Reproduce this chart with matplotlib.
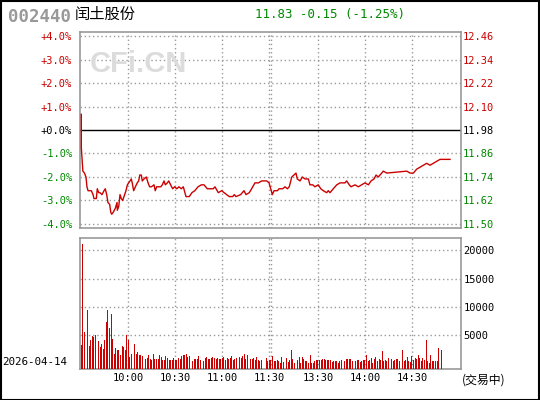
import matplotlib.pyplot as plt
import numpy as np

# dados do grafico (slot 0 = 9:30, slot 121 = 13:00)
prev_close = 11.98
code = "002440"
name = "闰土股份"
date_str = "2026-04-14"

price_slots = [0, 0, 1, 2, 3, 3.6, 4.3, 6.4, 7.5, 8.1, 9.6, 10.2, 11.1, 11.9, 13.2, 14.5,
               15.3, 16.2, 17, 18.1, 18.8, 19.4, 20.4, 21.7, 22.8, 23, 23.9, 24.3, 24.7,
               25.5, 26.4, 27.7, 28.5, 29.4, 30.2, 31.1, 31.9, 32.5, 33.4, 34.5, 35.7,
               36.6, 37.3, 38.3, 38.9, 40, 41.5, 42.6, 43.6, 44.7, 46.4, 47.2, 48.1,
               50.7, 51.7, 52.8, 53.6, 54.9, 55.8, 57, 58.3, 59.6, 60.9, 62.3, 63.8,
               65.1, 66.8, 68.9, 70.6, 72.4, 74.5, 76.6, 78.3, 80.4, 84.2, 85.3, 87.4,
               89.6, 91.1, 92.8, 94.4, 96.6, 97.6, 98.7, 101.7, 103.8, 105.1, 107.2,
               108.7, 110.8, 113, 115.1, 116.8, 118.3, 119.8, 121.9, 123, 125.1, 126.2,
               128.5, 130, 131.5, 132.7, 134.3, 135.7, 137, 137.8, 139.6, 141, 142.8,
               144.9, 145.9, 147.7, 149.1, 151.2, 152.8, 154.4, 156.6, 157.6, 158.7,
               160.8, 163, 165.1, 168.3, 169.3, 171, 172.1, 174.7, 176.8, 178.9, 181,
               183.2, 184.9, 186.8, 188.1, 189.5, 191.7, 192.7, 194.9, 207.7, 209.8,
               211.9, 214, 216.1, 218.3, 220.4, 222.5, 224.6, 226.8, 228.9, 235.3]
prices = [12.06, 11.89, 11.77, 11.76, 11.74, 11.69, 11.67, 11.67, 11.65, 11.63, 11.63,
          11.68, 11.66, 11.66, 11.65, 11.67, 11.68, 11.65, 11.61, 11.60, 11.56, 11.55,
          11.56, 11.58, 11.61, 11.57, 11.59, 11.62, 11.65, 11.63, 11.62, 11.65, 11.67,
          11.70, 11.71, 11.72, 11.73, 11.71, 11.67, 11.69, 11.71, 11.72, 11.75, 11.75,
          11.72, 11.73, 11.74, 11.71, 11.69, 11.69, 11.70, 11.67, 11.69, 11.69, 11.70,
          11.72, 11.70, 11.71, 11.72, 11.70, 11.68, 11.69, 11.68, 11.69, 11.68, 11.69,
          11.64, 11.64, 11.66, 11.67, 11.69, 11.70, 11.70, 11.68, 11.68, 11.69, 11.66,
          11.67, 11.66, 11.65, 11.64, 11.64, 11.65, 11.64, 11.65, 11.67, 11.65, 11.66,
          11.68, 11.71, 11.71, 11.72, 11.72, 11.72, 11.71, 11.65, 11.67, 11.67, 11.68,
          11.68, 11.69, 11.68, 11.69, 11.74, 11.75, 11.76, 11.73, 11.72, 11.74, 11.73,
          11.73, 11.70, 11.70, 11.69, 11.70, 11.68, 11.67, 11.66, 11.67, 11.66, 11.68,
          11.70, 11.71, 11.71, 11.72, 11.70, 11.69, 11.70, 11.69, 11.70, 11.71, 11.70,
          11.72, 11.73, 11.75, 11.74, 11.76, 11.77, 11.76, 11.77, 11.76, 11.76, 11.78,
          11.79, 11.80, 11.81, 11.80, 11.81, 11.82, 11.83, 11.83]

# volume por minuto (slots 0..230), 0 = sem barra
volumes = [3230, 21050, 5580, 6760, 9400, 3050, 4110, 4820, 4700, 5000,
           2520, 3940, 2930, 3400, 2640, 4110, 7350, 9400, 6290, 8700,
           4410, 1760, 2820, 2350, 2350, 1460, 3050, 2930, 2350, 5000,
           4110, 1170, 1760, 3940, 3400, 1640, 2000, 1460, 1460, 1290,
           2000, 760, 990, 1460, 760, 580, 1760, 880, 880, 880,
           1460, 1170, 700, 700, 1290, 1050, 580, 580, 580, 990,
           700, 580, 990, 760, 1290, 1460, 1460, 1640, 1170, 1290,
           1460, 460, 760, 760, 880, 1290, 580, 580, 460, 990,
           1170, 880, 760, 1050, 1170, 990, 880, 1050, 880, 760,
           990, 1170, 700, 990, 880, 1050, 1290, 700, 880, 1050,
           580, 1170, 990, 1290, 1760, 880, 1460, 990, 760, 880,
           1050, 580, 1170, 700, 460, 700, 0, 0, 990, 400,
           580, 700, 1290, 400, 400, 580, 400, 200, 1110, 290,
           400, 990, 290, 580, 2350, 760, 200, 400, 580, 1110,
           200, 1110, 880, 400, 400, 200, 1470, 200, 170, 400,
           580, 580, 700, 580, 820, 880, 700, 580, 580, 580,
           290, 400, 400, 400, 200, 400, 580, 1110, 400, 880,
           880, 760, 760, 400, 400, 400, 580, 580, 290, 400,
           700, 700, 1470, 400, 580, 990, 200, 880, 1110, 400,
           880, 580, 2230, 400, 580, 400, 990, 290, 880, 400,
           580, 880, 880, 400, 880, 2350, 400, 580, 1110, 400,
           290, 1290, 580, 990, 880, 1470, 990, 400, 990, 580,
           4110, 400, 200, 1470, 400, 400, 400, 400, 2760, 0,
           2350]

time_slots = [30, 60, 90, 120, 151, 181, 211]
time_labels = ["10:00", "10:30", "11:00", "11:30", "13:30", "14:00", "14:30"]
vol_ticks = [5000, 10000, 15000, 20000]

RED = "#cc0000"
GREEN = "#008800"
GRID = "#999999"
MONO = "DejaVu Sans Mono"
W, H = 540, 400

def fx(x):
    return x / W

def fy(y):
    return 1 - y / H

fig = plt.figure(figsize=(5.4, 4.0), dpi=100)

ax = fig.add_axes([fx(80.3), fy(228.3), (460.7 - 80.3) / W, (228.3 - 31.7) / H])
axv = fig.add_axes([fx(80.3), fy(369.3), (460.7 - 80.3) / W, (369.3 - 238.3) / H])

pct = (np.array(prices) / prev_close - 1) * 100
ax.plot(price_slots, pct, color=RED, lw=1.0, zorder=3)
ax.axhline(0, color="black", lw=1.0, zorder=2)

xlim = (-0.64, 242.1)
grid_x = [30, 60, 90, 120, 121, 151, 181, 211]
for a in (ax, axv):
    a.set_xlim(*xlim)
    for s in a.spines.values():
        s.set_color(GRID)
        s.set_linewidth(1.2)
    for gx in grid_x:
        a.axvline(gx, color=GRID, lw=1, ls=(0, (1, 2)), zorder=1)

# eixo de precos
ax.set_ylim(-4.19, 4.19)
levels = list(range(-4, 5))
ax.set_yticks(levels)
ax.set_yticklabels([f"{k:+.1f}%" for k in levels], fontfamily=MONO, fontsize=7.5)
ax.set_xticks([])
ax.tick_params(axis="y", length=0, pad=6)
for k in levels:
    if k != 0:
        ax.axhline(k, color=GRID, lw=1, ls=(0, (1, 2)), zorder=1)
axr = ax.twinx()
axr.set_ylim(ax.get_ylim())
axr.set_yticks(levels)
axr.set_yticklabels([f"{prev_close * (1 + k / 100):.2f}" for k in levels],
                    fontfamily=MONO, fontsize=7.5)
axr.tick_params(axis="y", length=0, pad=1.5)
for s in axr.spines.values():
    s.set_visible(False)
for labels in (ax.get_yticklabels(), axr.get_yticklabels()):
    for k, t in zip(levels, labels):
        t.set_color(RED if k > 0 else (GREEN if k < 0 else "black"))

# volume
VMIN, VMAX = -1000, 22120
slots = np.arange(len(volumes))
vol = np.array(volumes, dtype=float)
mask = vol > 0
axv.bar(slots[mask], vol[mask] - VMIN, bottom=VMIN, width=0.6, color=RED,
        linewidth=0, zorder=3)
axv.set_ylim(VMIN, VMAX)
axv.yaxis.tick_right()
axv.set_yticks(vol_ticks)
axv.set_yticklabels([str(v) for v in vol_ticks], fontfamily=MONO, fontsize=7.5)
for v in vol_ticks:
    axv.axhline(v, color=GRID, lw=1, ls=(0, (1, 2)), zorder=1)
axv.set_xticks(time_slots)
axv.set_xticklabels(time_labels, fontfamily=MONO, fontsize=7.5)
axv.tick_params(length=0)
axv.tick_params(axis="x", pad=3)
axv.tick_params(axis="y", pad=2)

# textos
last = prices[-1]
chg = last - prev_close
fig.text(fx(8), fy(16.5), code, color="#999999", fontfamily=MONO, fontsize=12.5,
         fontweight="bold", va="center")
fig.text(fx(75), fy(14.5), name, color="black", fontfamily="Noto Sans CJK SC",
         fontsize=11, va="center")
fig.text(fx(255), fy(14.5), f"{last:.2f} {chg:.2f} ({chg / prev_close * 100:.2f}%)",
         color=GREEN, fontfamily=MONO, fontsize=9, va="center")
fig.text(fx(90), fy(64), "CFi.CN", color="#dcdcdc", fontfamily="Liberation Sans",
         fontsize=21, fontweight="bold", va="center")
fig.text(fx(2), fy(362), date_str, color="black", fontfamily=MONO, fontsize=7.8,
         va="center")
fig.text(fx(462), fy(380), "(交易中)", color="black",
         fontfamily=["Noto Sans CJK SC", "DejaVu Sans"], fontsize=8.6, va="center")

# moldura
fig.patches.append(plt.Rectangle((0.001, 0.001), 0.997, 0.997, transform=fig.transFigure,
                                 fill=False, edgecolor="black", lw=1.5))

fig.savefig("out.png", dpi=100)
